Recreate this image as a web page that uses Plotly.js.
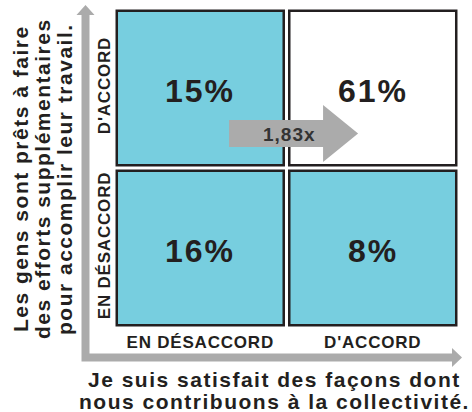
<!DOCTYPE html>
<html>
<head>
<meta charset="utf-8">
<script src="https://cdn.plot.ly/plotly-3.0.1.min.js"></script>
<style>html,body{margin:0;padding:0;background:#fff;}#chart{width:472px;height:412px;}</style>
</head>
<body>
<div id="chart"></div>
<script>
// ---- data ----
const xCategories = ["EN DÉSACCORD", "D'ACCORD"];   // satisfaction (x)
const yCategories = ["EN DÉSACCORD", "D'ACCORD"];   // willingness (y), bottom to top
const bottomRowValues = [16, 8];                     // y = EN DÉSACCORD
const topRowValues = [15, 61];                       // y = D'ACCORD
const ratioLabel = "1,83x";
const xTitleLines = ["Je suis satisfait des façons dont", "nous contribuons à la collectivité."];
const yTitleLines = ["Les gens sont prêts à faire", "des efforts supplémentaires", "pour accomplir leur travail."];

// ---- style ----
const TEAL = "#77cedf", DARK = "#231f20", GRAY = "#ababab";
const FAM = "Liberation Sans, Arial, Helvetica, sans-serif";
const W = 472, H = 412, M = {l: 114, r: 13, t: 8, b: 84};
const sp = (s, ls) => '<span style="letter-spacing:' + ls + 'px">' + s + '</span>';
const px = x => (x - M.l) / (W - M.l - M.r);
const py = y => (H - M.b - y) / (H - M.t - M.b);

const rows = [bottomRowValues, topRowValues];
const maxVal = Math.max(...rows.flat());
const inset = 0.016;

const shapes = [];
const annotations = [];
const tx = [], ty = [], tt = [];
rows.forEach((vals, r) => {
  vals.forEach((v, c) => {
    shapes.push({type: 'rect', xref: 'x', yref: 'y', layer: 'below',
      x0: c - 0.5 + inset, x1: c + 0.5 - inset, y0: r - 0.5 + inset * 1.07, y1: r + 0.5 - inset * 1.07,
      fillcolor: v === maxVal ? '#ffffff' : TEAL, line: {color: DARK, width: 2.5}});
    tx.push(xCategories[c]); ty.push(yCategories[r]); tt.push(sp(v + '%', 2));
  });
});
// block arrow between the top cells
shapes.push({type: 'path', xref: 'x', yref: 'y', layer: 'below', fillcolor: GRAY, line: {width: 0},
  path: 'M0.167,0.800 L0.712,0.800 L0.712,0.894 L0.915,0.716 L0.712,0.5375 L0.712,0.631 L0.167,0.631 Z'});
// axis arrows (L shape)
const P = (x, y) => px(x).toFixed(5) + ',' + py(y).toFixed(5);
shapes.push({type: 'path', xref: 'paper', yref: 'paper', fillcolor: GRAY, line: {width: 0},
  path: 'M' + P(81.5, 361.5) + ' L' + P(81.5, 15) + ' L' + P(76.5, 15) + ' L' + P(85.5, 5) + ' L' + P(94.5, 15) +
        ' L' + P(89.5, 15) + ' L' + P(89.5, 353.5) + ' L' + P(452, 353.5) + ' L' + P(452, 348) + ' L' + P(462, 357.5) +
        ' L' + P(452, 367) + ' L' + P(452, 361.5) + ' Z'});

// percentage labels, placed on the category axes
tx.forEach((x, i) => annotations.push({xref: 'x', yref: 'y', x: x, y: ty[i], text: tt[i], showarrow: false,
  yshift: -3, font: {family: FAM, size: 32, weight: 'bold', color: DARK}}));

annotations.push({xref: 'x', yref: 'y', x: 0.52, y: 0.7125, text: sp(ratioLabel, 1), showarrow: false,
  font: {family: FAM, size: 19, weight: 'bold', color: '#333333'}});
const xTitleY = [379, 401];
xTitleLines.forEach((s, i) => annotations.push({xref: 'paper', yref: 'paper', x: px(274), y: py(xTitleY[i]),
  xanchor: 'center', yanchor: 'middle', text: sp(s, 1.5), showarrow: false,
  font: {family: FAM, size: 21, weight: 'bold', color: DARK}}));
const yTitleX = [20, 42, 64];
yTitleLines.forEach((s, i) => annotations.push({xref: 'paper', yref: 'paper', x: px(yTitleX[i]), y: py(179),
  xanchor: 'center', yanchor: 'middle', textangle: -90, text: sp(s, 1.5), showarrow: false,
  font: {family: FAM, size: 21, weight: 'bold', color: DARK}}));

const trace = {type: 'scatter', mode: 'markers', x: tx, y: ty, marker: {opacity: 0}, hoverinfo: 'skip'};

const layout = {
  width: W, height: H, margin: M, showlegend: false,
  paper_bgcolor: '#ffffff', plot_bgcolor: 'rgba(0,0,0,0)',
  xaxis: {type: 'category', categoryarray: xCategories, categoryorder: 'array', range: [-0.5, 1.5],
    tickmode: 'array', tickvals: xCategories, ticktext: xCategories.map(s => sp(s, 0.8)),
    showgrid: false, zeroline: false, showline: false, ticks: '', ticklabelstandoff: 2,
    tickfont: {family: FAM, size: 17, weight: 'bold', color: DARK}, fixedrange: true},
  yaxis: {type: 'category', categoryarray: yCategories, categoryorder: 'array', range: [-0.5, 1.5],
    tickmode: 'array', tickvals: yCategories, ticktext: yCategories.map(s => sp(s, 0.8)), tickangle: -90,
    showgrid: false, zeroline: false, showline: false, ticks: '',
    tickfont: {family: FAM, size: 17, weight: 'bold', color: DARK}, fixedrange: true},
  shapes: shapes, annotations: annotations
};
Plotly.newPlot('chart', [trace], layout, {displayModeBar: false, staticPlot: true});
</script>
</body>
</html>
